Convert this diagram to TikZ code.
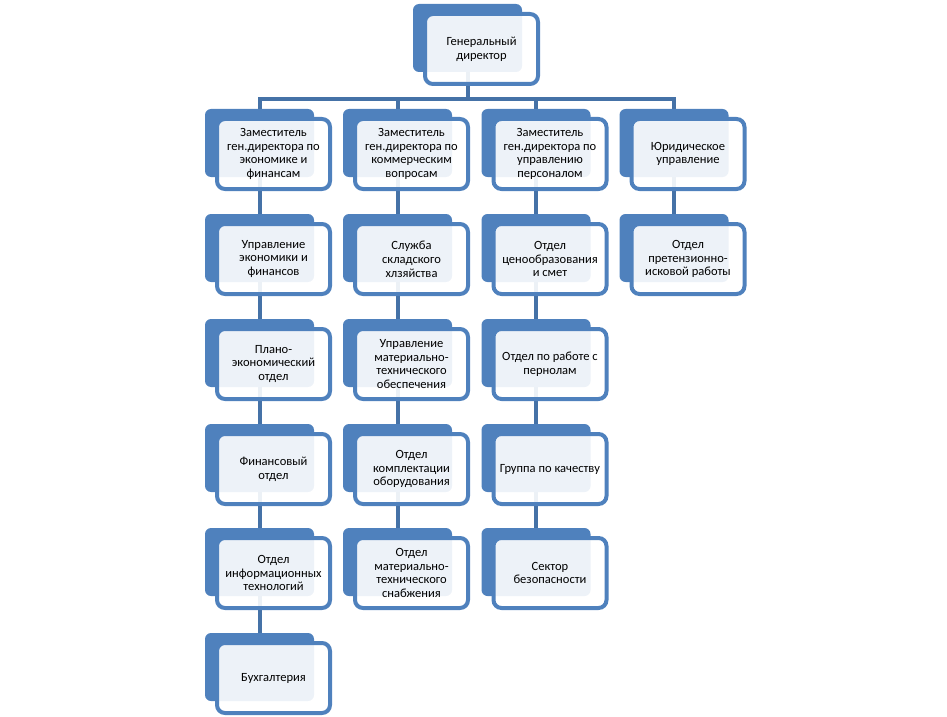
\documentclass[tikz,border=0pt]{standalone}
\usepackage{fontspec}
\setmainfont{Carlito}
\usetikzlibrary{positioning,calc}
\definecolor{accent}{RGB}{79,129,189}
\definecolor{linkcol}{RGB}{69,114,167}
\pgfdeclarelayer{bg}
\pgfsetlayers{bg,main}

\begin{document}
\begin{tikzpicture}[x=0.75pt, y=-0.75pt,
  back/.style={fill=accent, rounded corners=4.5pt, minimum width=81.75pt, minimum height=51pt, inner sep=0pt},
  front/.style={draw=accent, line width=3pt, fill=white, fill opacity=0.9, text opacity=1, rounded corners=6pt,
    minimum width=84.75pt, minimum height=52.5pt, inner sep=0pt, align=center, font=\fontsize{9.4}{10.4}\selectfont},
  link/.style={draw=linkcol, line width=3pt},
]
\useasboundingbox (0,0) rectangle (947,717);
% --- top ---
\node[back] (dir) at (467.5,38) {};
\node[front] (tdir) at ($(dir)+(14,11)$) {Генеральный\\директор};
% --- column a ---
\node[back] (a1) at (259.5,143) {};
\node[front] (ta1) at ($(a1)+(14,11)$) {Заместитель\\ген.директора по\\экономике и\\финансам};
\node[back] (a2) at (259.5,248) {};
\node[front] (ta2) at ($(a2)+(14,11)$) {Управление\\экономики и\\финансов};
\node[back] (a3) at (259.5,353) {};
\node[front] (ta3) at ($(a3)+(14,11)$) {Плано-\\экономический\\отдел};
\node[back] (a4) at (259.5,458) {};
\node[front] (ta4) at ($(a4)+(14,11)$) {Финансовый\\отдел};
\node[back] (a5) at (259.5,562) {};
\node[front] (ta5) at ($(a5)+(14,11)$) {Отдел\\информационных\\технологий};
\node[back] (a6) at (259.5,667) {};
\node[front] (ta6) at ($(a6)+(14,11)$) {Бухгалтерия};
% --- column b ---
\node[back] (b1) at (397.5,143) {};
\node[front] (tb1) at ($(b1)+(14,11)$) {Заместитель\\ген.директора по\\коммерческим\\вопросам};
\node[back] (b2) at (397.5,248) {};
\node[front] (tb2) at ($(b2)+(14,11)$) {Служба\\складского\\хлзяйства};
\node[back] (b3) at (397.5,353) {};
\node[front] (tb3) at ($(b3)+(14,11)$) {Управление\\материально-\\технического\\обеспечения};
\node[back] (b4) at (397.5,458) {};
\node[front] (tb4) at ($(b4)+(14,11)$) {Отдел\\комплектации\\оборудования};
\node[back] (b5) at (397.5,562) {};
\node[front] (tb5) at ($(b5)+(14,11)$) {Отдел\\материально-\\технического\\снабжения};
% --- column c ---
\node[back] (c1) at (536,143) {};
\node[front] (tc1) at ($(c1)+(14,11)$) {Заместитель\\ген.директора по\\управлению\\персоналом};
\node[back] (c2) at (536,248) {};
\node[front] (tc2) at ($(c2)+(14,11)$) {Отдел\\ценообразования\\и смет};
\node[back] (c3) at (536,353) {};
\node[front] (tc3) at ($(c3)+(14,11)$) {Отдел по работе с\\пернолам};
\node[back] (c4) at (536,458) {};
\node[front] (tc4) at ($(c4)+(14,11)$) {Группа по качеству};
\node[back] (c5) at (536,562) {};
\node[front] (tc5) at ($(c5)+(14,11)$) {Сектор\\безопасности};
% --- column d ---
\node[back] (d1) at (674,143) {};
\node[front] (td1) at ($(d1)+(14,11)$) {Юридическое\\управление};
\node[back] (d2) at (674,248) {};
\node[front] (td2) at ($(d2)+(14,11)$) {Отдел\\претензионно-\\исковой работы};
% --- connectors ---
\begin{pgfonlayer}{bg}
\coordinate (bus) at (467.5,99);
\draw[link] (dir.center) -- (bus);
\draw[link] (a1.center) |- (bus);
\draw[link] (d1.center) |- (bus);
\draw[link] (b1.center) -- (b1.center |- bus);
\draw[link] (c1.center) -- (c1.center |- bus);
\draw[link] (a1.center) -- (a6.center);
\draw[link] (b1.center) -- (b5.center);
\draw[link] (c1.center) -- (c5.center);
\draw[link] (d1.center) -- (d2.center);
\end{pgfonlayer}
\end{tikzpicture}
\end{document}
